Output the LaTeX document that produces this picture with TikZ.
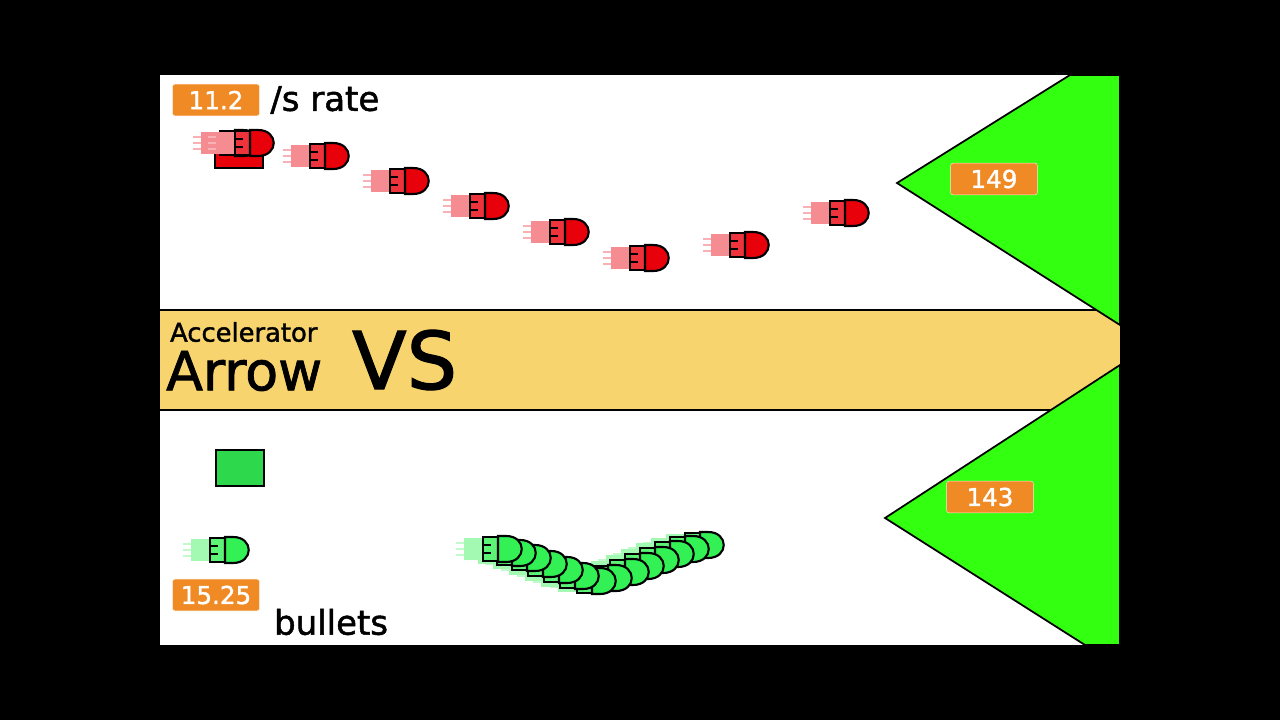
\documentclass[tikz,border=0pt]{standalone}
\usepackage{fontspec}
\setmainfont{DejaVu Sans}[FakeBold=1.5, BoldFont=DejaVu Sans]
\usetikzlibrary{positioning}
\definecolor{bandyellow}{HTML}{F8D46E}
\definecolor{padgreen}{HTML}{33FF11}
\definecolor{tagorange}{HTML}{F08A24}
\definecolor{shotred}{HTML}{E8000B}
\definecolor{shotgreen}{HTML}{33F055}
\tikzset{
	tag/.style={fill=tagorange, draw=white!80!tagorange, rounded corners=2pt, text=white, minimum width=2.6cm, minimum height=0.95cm, font=\fontsize{21}{23}\selectfont},
	label/.style={anchor=west, font=\fontsize{29}{31}\selectfont\bfseries},
	pics/shot/.style={code={
		\foreach \t in {-6,0,6}
			\draw[#1!30, line width=1pt] (-42,\t) -- (-26,\t);
		\fill[#1!45] (-34,-11) rectangle (-15,11);
		\draw[black, line width=1.6pt, fill=#1!80] (-15,-12) rectangle (0,12);
		\draw[black, line width=1pt] (-15,-4) -- (-7,-4) (-15,4) -- (-7,4);
		\draw[black, line width=1.8pt, fill=#1] (0,-13) -- (8,-13) .. controls (29,-13) and (29,13) .. (8,13) -- (0,13) -- cycle;
	}}
}
\begin{document}
\begin{tikzpicture}[x=0.03cm, y=-0.03cm]
	\fill[black] (0,0) rectangle (1280,720);
	\fill[white] (160,75) rectangle (1120,645);
	% middle band
	\fill[bandyellow] (160,310) rectangle (1120,410);
	\draw[line width=1.5pt] (160,310) -- (1120,310) (160,410) -- (1120,410);
	% green pads
	\filldraw[fill=padgreen, line width=1.5pt] (1070,75) -- (897,183) -- (1120,325) -- (1120,75) -- cycle;
	\filldraw[fill=padgreen, line width=1.5pt] (1120,365) -- (885,518) -- (1085,645) -- (1120,645) -- cycle;
	% blocks
	\filldraw[fill=shotred, line width=1.5pt] (215,150) rectangle (263,168);
	\filldraw[fill=shotgreen!90!black, line width=1.5pt] (216,450) rectangle (264,486);
	% red shots
	\foreach \x/\y in {235/143, 250/143, 325/156, 405/181, 485/206, 565/232, 645/258, 745/245, 845/213}
		\pic at (\x,\y) {shot=shotred};
	% green shots
	\pic at (225,550) {shot=shotgreen};
	\foreach \x/\y in {700/545, 685/549, 670/554, 655/560, 640/566, 625/572, 608/578, 592/581, 575/576, 559/570, 543/564, 527/558, 512/553, 498/549}
		\pic at (\x,\y) {shot=shotgreen};
	% tags and texts
	\node[tag] (rate) at (216,100) {11.2};
	\node[label, right=0.2cm of rate] (ratetext) {/s rate};
	\node[tag] (top) at (994,179) {149};
	\node[tag] (bottom) at (990,497) {143};
	\node[tag] (count) at (216,595) {15.25};
	\node[label] (bullets) at (270,622) {bullets};
	\node[anchor=west, font=\fontsize{22}{24}\selectfont\bfseries] (accel) at (166,332) {Accelerator};
	\node[anchor=west, font=\fontsize{46}{48}\selectfont\bfseries] (arrow) at (162,371) {Arrow};
	\node[anchor=west, font=\fontsize{68}{70}\selectfont\bfseries] (vs) at (348,360) {VS};
\end{tikzpicture}
\end{document}
